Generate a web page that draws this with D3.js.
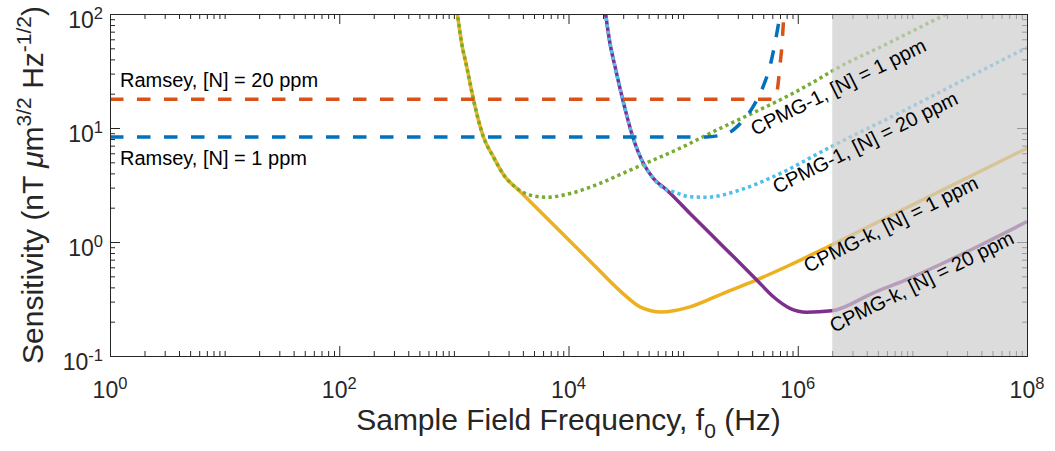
<!DOCTYPE html>
<html>
<head>
<meta charset="utf-8">
<script src="https://cdn.jsdelivr.net/npm/d3@7"></script>
<style>
body { margin: 0; background: #fff; }
svg text { font-family: "Liberation Sans", Arial, Helvetica, sans-serif; }
</style>
</head>
<body>
<svg id="chart" width="1055" height="451"></svg>
<script>
// values
// f in Hz, sensitivity in nT um^3/2 Hz^-1/2

var ramsey1F = [1, 158500, 251200, 316200, 398100, 501200, 575400, 645700, 699800, 724400];
var ramsey1S = [8.34, 8.34, 9.12, 11.0, 14.8, 23.4, 35.5, 61.7, 100, 132];

var ramsey20F = [1, 631000, 653100, 676100, 699800, 724400, 744700, 762100];
var ramsey20S = [17.9, 17.9, 19.5, 25.1, 35.5, 50.1, 75.9, 112];

var cpmg1_1F = [1000, 1072, 1169, 1294, 1479, 1807, 2208, 2793, 3532, 4613, 6457, 11020, 18840,
	32140, 54950, 93970, 140300, 1563000, 1950000, 6310000, 19910000, 25120000];
var cpmg1_1S = [158, 100, 55.3, 34.5, 17.9, 8.39, 5.60, 3.74, 2.96, 2.58, 2.47, 2.71, 3.27,
	4.14, 5.24, 6.64, 8.13, 27.3, 31.2, 56.1, 100, 112];

var cpmgk_1F = [1000, 1072, 1169, 1294, 1479, 1807, 2208, 2793, 3532, 5012, 7943, 15850, 30060,
	42070, 65010, 114800, 224400, 438500, 855100, 1972000, 10210000, 100000000];
var cpmgk_1S = [158, 100, 55.3, 34.5, 17.9, 8.39, 5.60, 3.74, 2.96, 2.09, 1.32, 0.661, 0.351,
	0.270, 0.243, 0.270, 0.355, 0.465, 0.628, 0.942, 2.14, 6.65];

var cpmg1_20F = [19950, 21090, 23010, 25470, 29650, 36310, 44980, 54950, 71940, 82030, 114800,
	160300, 313300, 612400, 1950000, 10000000, 31620000, 100000000];
var cpmg1_20S = [158, 100, 55.3, 34.5, 17.9, 8.39, 4.90, 3.62, 2.86, 2.76, 2.49,
	2.47, 2.86, 3.74, 6.85, 15.5, 28.2, 50.8];

var cpmgk_20F = [19950, 21090, 23010, 25470, 29650, 36310, 44980, 54950, 71940, 114800, 224400,
	438500, 612400, 855100, 1197000, 1977000, 4487000, 8770000, 17100000, 39450000, 100000000];
var cpmgk_20S = [158, 100, 55.3, 34.5, 17.9, 8.39, 4.90, 3.62, 2.86, 1.78, 0.910,
	0.465, 0.331, 0.262, 0.242, 0.249, 0.355, 0.465, 0.628, 0.942, 1.51];

var shadeStart = 2e6;
var xTickExp = [0, 2, 4, 6, 8];
var yTickExp = [-1, 0, 1, 2];

var cfg = {
	left: 110,
	right: 1027,
	top: 14,
	bottom: 356,
	axisColor: "#262626"
};

function zip(F, S) {
	return F.map(function(f, i) { return {f: f, s: S[i]}; });
}

var series = [
	{ data: zip(cpmgk_1F, cpmgk_1S), color: "#EDB120", dash: null },
	{ data: zip(cpmgk_20F, cpmgk_20S), color: "#7E2F8E", dash: null },
	{ data: zip(cpmg1_1F, cpmg1_1S), color: "#77AC30", dash: "3.3,3.3" },
	{ data: zip(cpmg1_20F, cpmg1_20S), color: "#4DBEEE", dash: "3.3,3.3" },
	{ data: zip(ramsey20F, ramsey20S), color: "#D95319", dash: "13.5,13.5" },
	{ data: zip(ramsey1F, ramsey1S), color: "#0072BD", dash: "13.5,13.5" }
];

var svg = d3.select("#chart");

var x = d3.scaleLog().domain([1, 1e8]).range([cfg.left, cfg.right]);
var y = d3.scaleLog().domain([0.1, 100]).range([cfg.bottom, cfg.top]);

svg.append("defs").append("clipPath").attr("id", "plotclip")
	.append("rect")
	.attr("x", cfg.left).attr("y", cfg.top)
	.attr("width", cfg.right - cfg.left).attr("height", cfg.bottom - cfg.top);

var line = d3.line()
	.x(function(d) { return x(d.f); })
	.y(function(d) { return y(d.s); })
	.curve(d3.curveMonotoneX);

var curves = svg.append("g").attr("clip-path", "url(#plotclip)");

curves.selectAll("path")
	.data(series)
	.enter().append("path")
	.attr("d", function(d) { return line(d.data); })
	.attr("fill", "none")
	.attr("stroke", function(d) { return d.color; })
	.attr("stroke-width", 3.5)
	.attr("stroke-dasharray", function(d) { return d.dash; });

// ticks
var xMajor = xTickExp.map(function(e) { return Math.pow(10, e); });
var yMajor = yTickExp.map(function(e) { return Math.pow(10, e); });
var xMinor = [];
for (var n = 0; n < 8; n++) {
	for (var k = 1; k < 10; k++) {
		var v = k * Math.pow(10, n);
		if (xMajor.indexOf(v) === -1) xMinor.push(v);
	}
}
var yMinor = [];
for (var m = -1; m < 2; m++) {
	for (var j = 2; j < 10; j++) {
		yMinor.push(j * Math.pow(10, m));
	}
}

function addAxis(axisFn, scale, vals, size, transform) {
	var g = svg.append("g")
		.attr("transform", transform)
		.call(axisFn(scale).tickValues(vals).tickSize(-size).tickSizeOuter(0).tickFormat(""));
	g.select(".domain").remove();
	g.selectAll("line").attr("stroke", cfg.axisColor);
	return g;
}

addAxis(d3.axisBottom, x, xMajor, 10, "translate(0," + cfg.bottom + ")");
addAxis(d3.axisBottom, x, xMinor, 5, "translate(0," + cfg.bottom + ")");
addAxis(d3.axisTop, x, xMajor, 10, "translate(0," + cfg.top + ")");
addAxis(d3.axisTop, x, xMinor, 5, "translate(0," + cfg.top + ")");
addAxis(d3.axisLeft, y, yMajor, 10, "translate(" + cfg.left + ",0)");
addAxis(d3.axisLeft, y, yMinor, 5, "translate(" + cfg.left + ",0)");
addAxis(d3.axisRight, y, yMajor, 10, "translate(" + cfg.right + ",0)");
addAxis(d3.axisRight, y, yMinor, 5, "translate(" + cfg.right + ",0)");

// shaded region, drawn over the curves so they look faded
svg.append("rect")
	.attr("x", x(shadeStart))
	.attr("y", cfg.top)
	.attr("width", x(1e8) - x(shadeStart))
	.attr("height", cfg.bottom - cfg.top)
	.attr("fill", "rgb(205,205,205)")
	.attr("fill-opacity", 0.7);

// frame
svg.append("rect")
	.attr("x", cfg.left + 0.5).attr("y", cfg.top + 0.5)
	.attr("width", cfg.right - cfg.left).attr("height", cfg.bottom - cfg.top)
	.attr("fill", "none")
	.attr("stroke", cfg.axisColor)
	.attr("stroke-width", 1);

// tick labels
var xl = svg.append("g").selectAll("text")
	.data(xTickExp)
	.enter().append("text")
	.attr("x", function(d) { return x(Math.pow(10, d)); })
	.attr("y", 398)
	.attr("text-anchor", "middle")
	.attr("font-size", 23)
	.attr("fill", cfg.axisColor);
xl.append("tspan").text("10");
xl.append("tspan").attr("dy", -9).attr("font-size", 16.5).text(function(d) { return d; });

var yl = svg.append("g").selectAll("text")
	.data(yTickExp)
	.enter().append("text")
	.attr("x", 103)
	.attr("y", function(d) { return y(Math.pow(10, d)) + 14; })
	.attr("text-anchor", "end")
	.attr("font-size", 23)
	.attr("fill", cfg.axisColor);
yl.append("tspan").text("10");
yl.append("tspan").attr("dy", -9).attr("font-size", 16.5).text(function(d) { return d; });

// axis titles
var xt = svg.append("text")
	.attr("x", (cfg.left + cfg.right) / 2)
	.attr("y", 430)
	.attr("text-anchor", "middle")
	.attr("font-size", 30)
	.attr("fill", cfg.axisColor);
xt.append("tspan").text("Sample Field Frequency, f");
xt.append("tspan").attr("dy", 8).attr("font-size", 21).text("0");
xt.append("tspan").attr("dy", -8).text(" (Hz)");

var yt = svg.append("text")
	.attr("transform", "translate(43," + (cfg.top + cfg.bottom) / 2 + ") rotate(-90)")
	.attr("text-anchor", "middle")
	.attr("font-size", 30)
	.attr("fill", cfg.axisColor);
yt.append("tspan").text("Sensitivity (nT ");
yt.append("tspan").attr("font-style", "italic").text("\u03bc");
yt.append("tspan").text("m");
yt.append("tspan").attr("dy", -12).attr("font-size", 21).text("3/2");
yt.append("tspan").attr("dy", 12).text(" Hz");
yt.append("tspan").attr("dy", -12).attr("font-size", 21).text("-1/2");
yt.append("tspan").attr("dy", 12).text(")");

// annotations
var notes = [
	{ t: "Ramsey, [N] = 20 ppm", x: 120, y: 87, r: 0 },
	{ t: "Ramsey, [N] = 1 ppm", x: 120, y: 165, r: 0 },
	{ t: "CPMG-1, [N] = 1 ppm", x: 755, y: 136, r: -26.5 },
	{ t: "CPMG-1, [N] = 20 ppm", x: 777, y: 194, r: -26.5 },
	{ t: "CPMG-k, [N] = 1 ppm", x: 808, y: 273, r: -26.5 },
	{ t: "CPMG-k, [N] = 20 ppm", x: 834, y: 333, r: -26.5 }
];

svg.append("g").selectAll("text")
	.data(notes)
	.enter().append("text")
	.attr("transform", function(d) {
		return "translate(" + d.x + "," + d.y + ") rotate(" + d.r + ")";
	})
	.attr("font-size", 20)
	.attr("fill", "#000")
	.text(function(d) { return d.t; });
</script>
</body>
</html>
